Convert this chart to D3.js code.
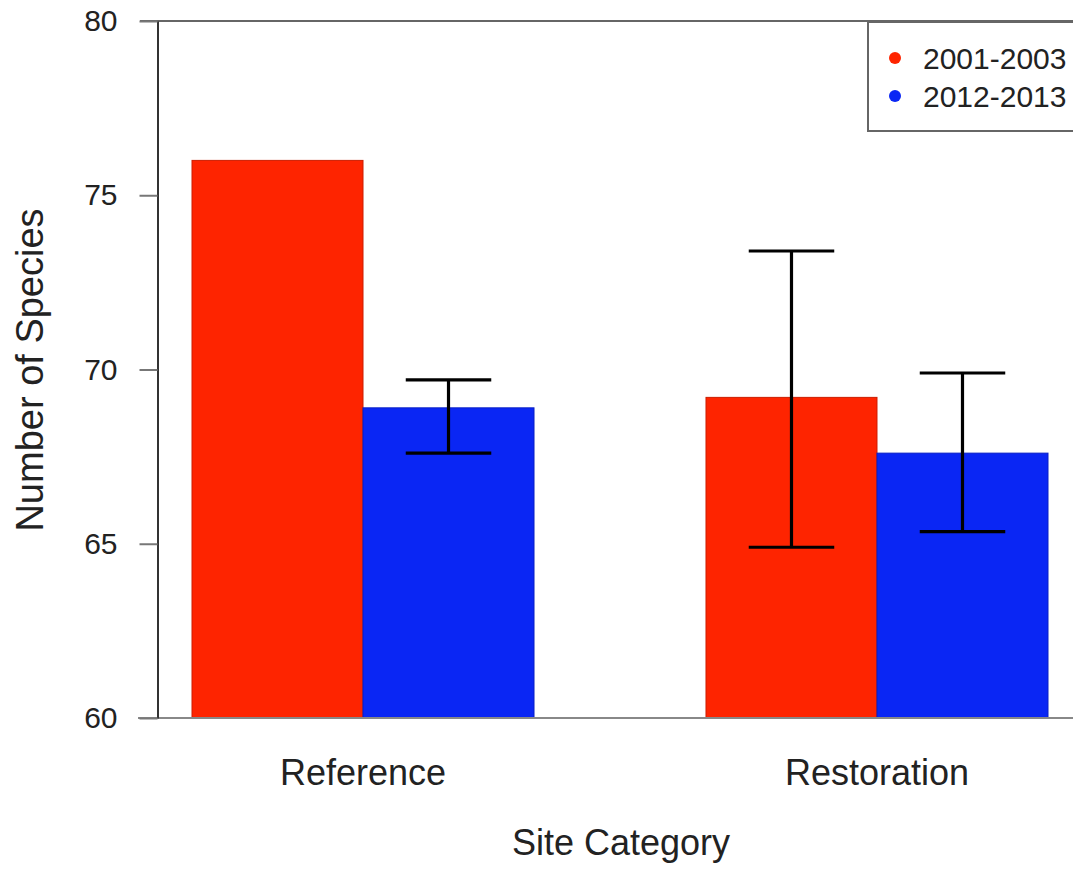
<!DOCTYPE html>
<html>
<head>
<meta charset="utf-8">
<script src="https://cdn.jsdelivr.net/npm/d3@7"></script>
<style>
  html, body { margin: 0; padding: 0; background: #fff; }
  svg { display: block; font-family: "Liberation Sans", Arial, Helvetica, sans-serif; }
</style>
</head>
<body>
<svg id="chart" width="1073" height="869"></svg>
<script>
// Mean species richness by site category and survey period
const categories = ["Reference", "Restoration"];
const periods = ["2001-2003", "2012-2013"];
const colors = ["#fe2400", "#0a26f4"];
const means2001 = [76.0, 69.2];
const means2012 = [68.9, 67.6];
// error bar bounds (low, high); null where no bar is drawn
const errLow2001 = [null, 64.9];
const errHigh2001 = [null, 73.4];
const errLow2012 = [67.6, 65.35];
const errHigh2012 = [69.7, 69.9];
const yTicks = [60, 65, 70, 75, 80];

const series = [
  { period: periods[0], color: colors[0], means: means2001, lo: errLow2001, hi: errHigh2001 },
  { period: periods[1], color: colors[1], means: means2012, lo: errLow2012, hi: errHigh2012 }
];

const svg = d3.select("#chart");
const W = 1073;
const textColor = "#222";

const y = d3.scaleLinear().domain([60, 80]).range([718, 21]);
const x0 = d3.scaleBand().domain(categories).range([192, 1048]).paddingInner(0.3346).paddingOuter(0);
const x1 = d3.scaleBand().domain(periods).range([0, x0.bandwidth()]).padding(0);

// frame line along the top of the value range
svg.append("line").attr("x1", 140).attr("x2", W).attr("y1", y(80)).attr("y2", y(80))
  .attr("stroke", "#666").attr("stroke-width", 2);

// bars
const groups = svg.append("g").selectAll("g").data(categories).join("g")
  .attr("transform", d => `translate(${x0(d)},0)`);

series.forEach((s) => {
  groups.append("rect")
    .attr("x", x1(s.period))
    .attr("width", x1.bandwidth())
    .attr("y", (d, i) => y(s.means[i]))
    .attr("height", (d, i) => y(60) - y(s.means[i]))
    .attr("fill", s.color)
    .attr("stroke", d3.color(s.color).darker(0.6))
    .attr("stroke-width", 1);
});

// error bars
series.forEach((s) => {
  categories.forEach((c, i) => {
    if (s.lo[i] == null) return;
    const cx = x0(c) + x1(s.period) + x1.bandwidth() / 2;
    const half = x1.bandwidth() / 4;
    const g = svg.append("g").attr("stroke", "#000").attr("stroke-width", 3.2);
    g.append("line").attr("x1", cx).attr("x2", cx).attr("y1", y(s.lo[i])).attr("y2", y(s.hi[i]));
    g.append("line").attr("x1", cx - half).attr("x2", cx + half).attr("y1", y(s.lo[i])).attr("y2", y(s.lo[i]));
    g.append("line").attr("x1", cx - half).attr("x2", cx + half).attr("y1", y(s.hi[i])).attr("y2", y(s.hi[i]));
  });
});

// baseline
svg.append("line").attr("x1", 138).attr("x2", W).attr("y1", y(60)).attr("y2", y(60))
  .attr("stroke", "#888").attr("stroke-width", 2);

// y axis
const yAxis = svg.append("g").attr("transform", "translate(157.5,0)")
  .call(d3.axisLeft(y).tickValues(yTicks).tickSize(18).tickPadding(22).tickSizeOuter(0));
yAxis.select(".domain").attr("stroke", "#333").attr("stroke-width", 2);
yAxis.selectAll(".tick line").attr("stroke", "#777").attr("stroke-width", 2);
yAxis.selectAll(".tick text").attr("fill", textColor).attr("font-size", 30)
  .attr("font-family", "'Liberation Sans', Arial, sans-serif");

// category labels
svg.append("g").selectAll("text").data(categories).join("text")
  .attr("x", d => x0(d) + x0.bandwidth() / 2)
  .attr("y", 785)
  .attr("text-anchor", "middle")
  .attr("font-size", 36)
  .attr("fill", textColor)
  .text(d => d);

// axis titles
svg.append("text").attr("x", 621).attr("y", 855).attr("text-anchor", "middle")
  .attr("font-size", 36).attr("fill", textColor).text("Site Category");
svg.append("text").attr("transform", "translate(43,370) rotate(-90)").attr("text-anchor", "middle")
  .attr("font-size", 38).attr("fill", textColor).text("Number of Species");

// legend
const legend = svg.append("g");
legend.append("rect").attr("x", 868).attr("y", 22).attr("width", 260).attr("height", 109)
  .attr("fill", "#fff").attr("stroke", "#666").attr("stroke-width", 2);
series.forEach((s, i) => {
  legend.append("circle").attr("cx", 895).attr("cy", 58 + i * 38).attr("r", 6).attr("fill", s.color);
  legend.append("text").attr("x", 923).attr("y", 69 + i * 38).attr("font-size", 30)
    .attr("fill", textColor).text(s.period);
});
</script>
</body>
</html>
